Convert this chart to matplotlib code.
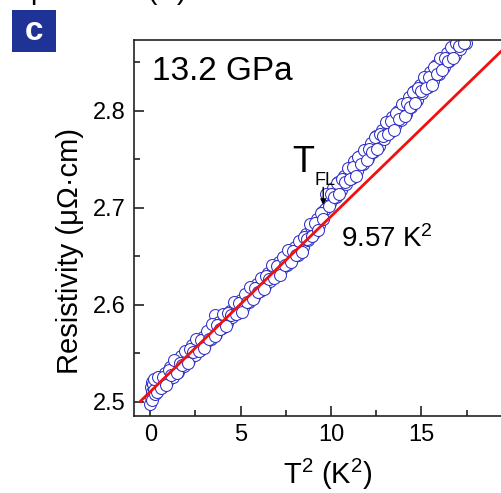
import matplotlib
matplotlib.use("Agg")
import matplotlib.pyplot as plt
from matplotlib.patches import Rectangle
from matplotlib.ticker import MultipleLocator

plt.rcParams['font.family'] = ['Liberation Sans', 'DejaVu Sans']
plt.rcParams['mathtext.fontset'] = 'custom'
plt.rcParams['mathtext.rm'] = 'Liberation Sans'
plt.rcParams['mathtext.it'] = 'Liberation Sans:italic'
plt.rcParams['mathtext.bf'] = 'Liberation Sans:bold'

# ---- data (T^2 in K^2, resistivity in micro-ohm cm) ----
T2 = [0.00, 0.02, 0.05, 0.08, 0.10, 0.12, 0.15, 0.18, 0.20, 0.25,
      0.35, 0.50, 0.65, 0.80, 0.95, 1.10, 1.25, 1.40, 1.55, 1.70,
      1.85, 2.00, 2.15, 2.30, 2.45, 2.60, 2.75, 2.90, 3.05, 3.20,
      3.35, 3.50, 3.60, 3.65, 3.80, 3.95, 4.10, 4.25, 4.40, 4.55,
      4.70, 4.85, 5.00, 5.15, 5.30, 5.45, 5.60, 5.75, 5.90, 6.05,
      6.20, 6.35, 6.50, 6.65, 6.80, 6.95, 7.10, 7.25, 7.40, 7.55,
      7.70, 7.85, 8.00, 8.15, 8.30, 8.45, 8.60, 8.75, 8.90, 9.05,
      9.20, 9.35, 9.50, 9.65, 9.80, 9.95, 10.10, 10.25, 10.40, 10.55,
      10.70, 10.85, 11.00, 11.15, 11.30, 11.45, 11.60, 11.75, 11.90, 12.05,
      12.20, 12.35, 12.50, 12.65, 12.80, 12.95, 13.10, 13.25, 13.40, 13.55,
      13.70, 13.85, 14.00, 14.15, 14.30, 14.45, 14.60, 14.75, 14.90, 15.05,
      15.20, 15.35, 15.50, 15.65, 15.80, 15.95, 16.10, 16.25, 16.40, 16.55,
      16.70, 16.85, 17.00, 17.15, 17.30, 17.45, 17.60]
rho = [2.498, 2.515, 2.505, 2.520, 2.510, 2.502, 2.518, 2.512, 2.523, 2.508,
       2.510, 2.525, 2.515, 2.530, 2.520, 2.536, 2.526, 2.540, 2.531, 2.547,
       2.537, 2.551, 2.543, 2.558, 2.548, 2.562, 2.553, 2.567, 2.560, 2.573,
       2.565, 2.578, 2.589, 2.570, 2.582, 2.576, 2.588, 2.581, 2.594, 2.587,
       2.600, 2.591, 2.605, 2.597, 2.611, 2.603, 2.616, 2.608, 2.621, 2.614,
       2.627, 2.619, 2.633, 2.624, 2.638, 2.630, 2.644, 2.636, 2.649, 2.641,
       2.654, 2.647, 2.660, 2.651, 2.665, 2.660, 2.673, 2.667, 2.680, 2.674,
       2.688, 2.682, 2.696, 2.699, 2.712, 2.705, 2.720, 2.711, 2.727, 2.718,
       2.733, 2.725, 2.740, 2.731, 2.748, 2.738, 2.753, 2.745, 2.760, 2.751,
       2.767, 2.758, 2.774, 2.764, 2.780, 2.771, 2.787, 2.778, 2.794, 2.784,
       2.800, 2.791, 2.807, 2.797, 2.814, 2.804, 2.820, 2.811, 2.827, 2.818,
       2.833, 2.825, 2.840, 2.831, 2.847, 2.838, 2.853, 2.845, 2.860, 2.851,
       2.866, 2.858, 2.872, 2.864, 2.878, 2.870, 2.884]

# second sweep of points
T2_b = [0.42, 0.57, 0.72, 0.87, 1.02, 1.17, 1.32, 1.47, 1.62, 1.77,
        1.92, 2.07, 2.22, 2.37, 2.52, 2.67, 2.82, 2.97, 3.12, 3.27,
        3.42, 3.57, 3.72, 3.87, 4.02, 4.17, 4.32, 4.47, 4.62, 4.77,
        4.92, 5.07, 5.22, 5.37, 5.52, 5.67, 5.82, 5.97, 6.12, 6.27,
        6.42, 6.57, 6.72, 6.87, 7.02, 7.17, 7.32, 7.47, 7.62, 7.77,
        7.92, 8.07, 8.22, 8.37, 8.52, 8.67, 8.82, 8.97, 9.12, 9.27,
        9.42, 9.57, 9.72, 9.87, 10.02, 10.17, 10.32, 10.47, 10.62, 10.77,
        10.92, 11.07, 11.22, 11.37, 11.52, 11.67, 11.82, 11.97, 12.12, 12.27,
        12.42, 12.57, 12.72, 12.87, 13.02, 13.17, 13.32, 13.47, 13.62, 13.77,
        13.92, 14.07, 14.22, 14.37, 14.52, 14.67, 14.82, 14.97, 15.12, 15.27,
        15.42, 15.57, 15.72, 15.87, 16.02, 16.17, 16.32, 16.47, 16.62, 16.77,
        16.92, 17.07, 17.22, 17.37, 17.52]
rho_b = [2.526, 2.514, 2.525, 2.517, 2.533, 2.528, 2.543, 2.530, 2.540, 2.538,
         2.552, 2.540, 2.554, 2.551, 2.565, 2.552, 2.564, 2.555, 2.573, 2.565,
         2.580, 2.568, 2.579, 2.575, 2.590, 2.578, 2.592, 2.589, 2.603, 2.590,
         2.602, 2.593, 2.611, 2.603, 2.618, 2.606, 2.617, 2.613, 2.628, 2.616,
         2.630, 2.627, 2.641, 2.628, 2.640, 2.631, 2.649, 2.641, 2.656, 2.644,
         2.655, 2.651, 2.666, 2.654, 2.670, 2.668, 2.683, 2.671, 2.684, 2.677,
         2.695, 2.688, 2.714, 2.702, 2.714, 2.711, 2.726, 2.714, 2.730, 2.727,
         2.741, 2.730, 2.742, 2.733, 2.752, 2.745, 2.760, 2.749, 2.761, 2.757,
         2.773, 2.761, 2.776, 2.774, 2.788, 2.776, 2.789, 2.780, 2.798, 2.792,
         2.807, 2.795, 2.808, 2.804, 2.819, 2.808, 2.823, 2.820, 2.835, 2.823,
         2.835, 2.827, 2.845, 2.838, 2.854, 2.842, 2.854, 2.851, 2.866, 2.854,
         2.870, 2.867, 2.881, 2.870, 2.880]

# linear fit line (endpoints)
fit_T2 = [-0.55, 21.0]
fit_rho = [2.5004, 2.8900]

x_ticks = [0, 5, 10, 15]
y_ticks = [2.5, 2.6, 2.7, 2.8]

W, H = 502, 493
fig = plt.figure(figsize=(W / 100, H / 100), dpi=100)
ax = fig.add_axes([134 / W, (H - 415.7) / H, 377.7 / W, (415.7 - 40) / H])

mk = dict(ls='none', marker='o', ms=8.6, mfc='white', mec='#2f2fc6', mew=0.75, zorder=2)
ax.plot(T2, rho, **mk)
ax.plot(T2_b, rho_b, **mk)
ax.plot(fit_T2, fit_rho, '-', color='#f01010', lw=2.0, zorder=3)

ax.set_xlim(-0.9, 20.0)
ax.set_ylim(2.4856, 2.873)
ax.set_xticks(x_ticks)
ax.set_yticks(y_ticks)
ax.set_yticklabels([f"{v:.1f}" for v in y_ticks])
ax.xaxis.set_minor_locator(MultipleLocator(2.5))
ax.yaxis.set_minor_locator(MultipleLocator(0.05))
ax.tick_params(which='both', direction='in', top=False, right=False, labelsize=17, width=1.2, colors='#222222')
ax.tick_params(which='major', length=7, pad=6)
ax.tick_params(which='minor', length=4)
ax.tick_params(axis='both', labelcolor='black')
for s in ax.spines.values():
    s.set_linewidth(1.2)
    s.set_color('#222222')

# axis labels
fig.text(70 / W, 1 - 251 / H, 'Resistivity (μΩ·cm)', rotation=90, ha='center', va='center', fontsize=21)
fig.text(328 / W, 1 - 484 / H, r'$\mathregular{T^2\ (K^2)}$', ha='center', va='baseline', fontsize=21)

# annotations
fig.text(152 / W, 1 - 80 / H, '13.2 GPa', ha='left', va='baseline', fontsize=24)
fig.text(292 / W, 1 - 172 / H, 'T', ha='left', va='baseline', fontsize=26)
fig.text(315 / W, 1 - 185 / H, 'FL', ha='left', va='baseline', fontsize=13)
ax.annotate('', xy=(9.57, 2.703), xytext=(9.57, 2.721), zorder=6,
            arrowprops=dict(arrowstyle='-|>', color='black', lw=1.0, mutation_scale=8,
                            shrinkA=0, shrinkB=0))
fig.text(341 / W, 1 - 247 / H, r'$\mathregular{9.57\ K^2}$', ha='left', va='baseline', fontsize=20)

# panel label
fig.patches.append(Rectangle((12 / W, 1 - 52 / H), 44 / W, 42 / H, transform=fig.transFigure,
                             facecolor='#1f3296', edgecolor='none'))
fig.text(34 / W, 1 - 31 / H, 'c', ha='center', va='center', fontsize=24, fontweight='bold', color='white')

# fragment of the panel above
fig.text(187 / W, 1 + 1 / H, 'Temperature (K)', ha='right', va='baseline', fontsize=21)

fig.savefig('out.png', dpi=100)
